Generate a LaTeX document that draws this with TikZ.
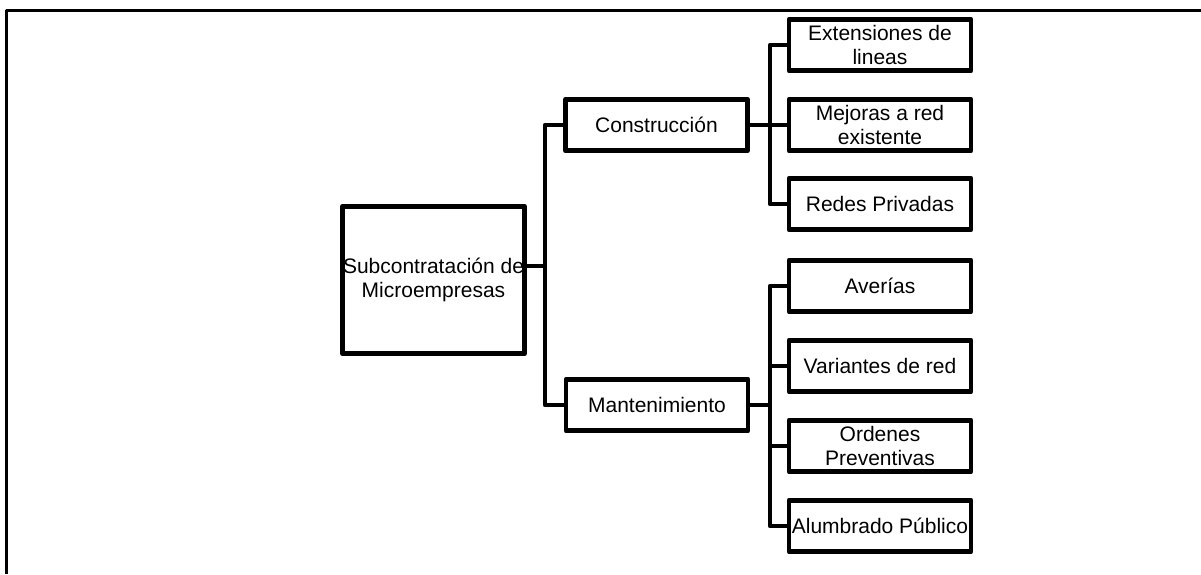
\documentclass[tikz,border=0pt]{standalone}
\usepackage{fontspec}
\setmainfont{Liberation Sans}
\begin{document}
\begin{tikzpicture}[x=0.5pt,y=-0.5pt,line width=2.4pt,line join=round]

        \useasboundingbox (0,0) rectangle (1201,574);
        \draw[line width=1.5pt] (6.5,574) -- (6.5,10) -- (1201,10);

        \begin{scope}[every node/.style={draw,rectangle,align=center,inner sep=0pt,
            minimum width=91pt,minimum height=25.8pt,
            font=\fontsize{10.5}{11.8}\selectfont}]
          \node[minimum height=73.8pt] (sub) at (433.5,280) {Subcontratación de\\Microempresas};
          \node (cons) at (656.5,125) {Construcción};
          \node (mant) at (657,405) {Mantenimiento};
          \node (ext)  at (880,45)  {Extensiones de\\lineas};
          \node (mej)  at (880,125) {Mejoras a red\\existente};
          \node (red)  at (880,204) {Redes Privadas};
          \node (ave)  at (880,286) {Averías};
          \node (var)  at (880,366) {Variantes de red};
          \node (ord)  at (880,446) {Ordenes\\Preventivas};
          \node (alu)  at (880,526) {Alumbrado Público};
        \end{scope}

        \coordinate (jA) at (545,266);
        \coordinate (jB) at (770,125);
        \coordinate (jC) at (770,405);

        \draw (sub.east |- jA) -- (jA);
        \draw (cons.west) -| (jA) |- (mant.west);

        \draw (cons.east) -- (jB);
        \draw (ext.west) -| (jB) |- (red.west);
        \draw (jB) -- (mej.west);

        \draw (mant.east) -- (jC);
        \draw (ave.west) -| (jC) |- (alu.west);
        \draw (jC |- var.west) -- (var.west);
        \draw (jC |- ord.west) -- (ord.west);

      \end{tikzpicture}
\end{document}
